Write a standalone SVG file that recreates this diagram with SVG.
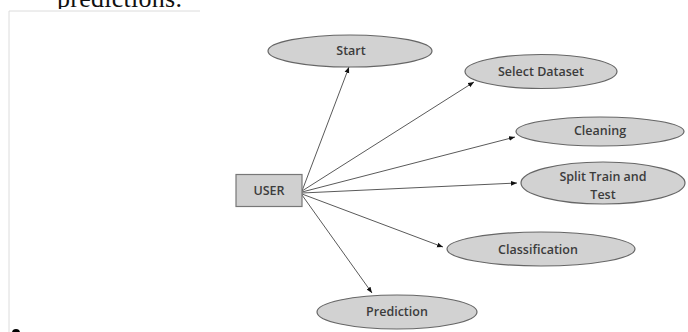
<svg xmlns="http://www.w3.org/2000/svg" width="688" height="332" viewBox="0 0 688 332">
<style>
.node ellipse{fill:#d2d2d2;stroke:#666;stroke-width:1.2}
.node rect{fill:#d0d0d0;stroke:#777;stroke-width:1.2}
.lbl{font-family:"Open Sans","Liberation Sans",sans-serif;font-size:12.5px;font-weight:600;fill:#3c3c3c;text-anchor:middle;dominant-baseline:central}
.conn line{stroke:#5a5a5a;stroke-width:1;marker-end:url(#ah)}
</style>
<defs>
<marker id="ah" viewBox="0 0 10 10" refX="10" refY="5" markerWidth="6" markerHeight="6" markerUnits="userSpaceOnUse" orient="auto">
<path d="M0,1 L10,5 L0,9 z" fill="#111"/>
</marker>
<clipPath id="clipTop"><rect x="0" y="0" width="688" height="9"/></clipPath>
</defs>
<rect x="0" y="0" width="688" height="332" fill="#fff"/>
<text x="57" y="7" clip-path="url(#clipTop)" font-family="Liberation Serif,serif" font-size="26" fill="#111" textLength="125">predictions.</text>
<line x1="9" y1="11" x2="200" y2="11" stroke="#dcdcdc" stroke-width="1"/>
<line x1="9" y1="11" x2="9" y2="332" stroke="#dcdcdc" stroke-width="1"/>
<circle cx="16" cy="333" r="4" fill="#000"/>
<g id="connectors" class="conn">
<line x1="302" y1="191" x2="349" y2="67"/>
<line x1="302" y1="191" x2="474" y2="82"/>
<line x1="302" y1="192" x2="515" y2="137"/>
<line x1="302" y1="193" x2="517" y2="183"/>
<line x1="302" y1="194" x2="443" y2="247"/>
<line x1="302" y1="195" x2="372" y2="293"/>
</g>
<g id="user" class="node"><rect x="236" y="174.5" width="66" height="32"/><text class="lbl" x="269" y="190.5">USER</text></g>
<g id="start" class="node"><ellipse cx="350" cy="51" rx="82" ry="16"/><text class="lbl" x="351" y="50">Start</text></g>
<g id="select" class="node"><ellipse cx="541" cy="71.5" rx="76" ry="17"/><text class="lbl" x="541" y="71">Select Dataset</text></g>
<g id="cleaning" class="node"><ellipse cx="600" cy="131.5" rx="84" ry="14.5"/><text class="lbl" x="600" y="130">Cleaning</text></g>
<g id="split" class="node"><ellipse cx="603" cy="183" rx="82" ry="21"/><text class="lbl" x="603" y="176.5">Split Train and</text><text class="lbl" x="603" y="194">Test</text></g>
<g id="classification" class="node"><ellipse cx="541" cy="249" rx="94" ry="17"/><text class="lbl" x="538" y="249">Classification</text></g>
<g id="prediction" class="node"><ellipse cx="397" cy="312" rx="80" ry="17"/><text class="lbl" x="397" y="311">Prediction</text></g>
</svg>
